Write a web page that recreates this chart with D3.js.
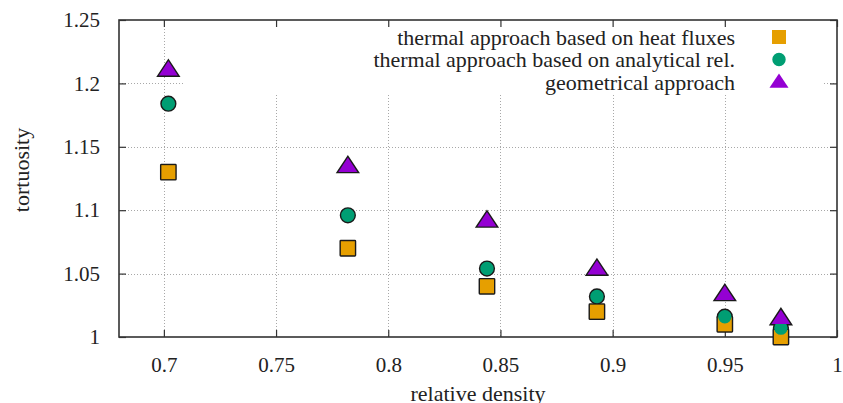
<!DOCTYPE html>
<html>
<head>
<meta charset="utf-8">
<script src="https://cdn.jsdelivr.net/npm/d3@7"></script>
<style>
  html, body { margin: 0; padding: 0; background: #fff; }
  svg { display: block; }
  text { font-family: "Liberation Serif", "Times New Roman", serif; fill: #222; }
</style>
</head>
<body>
<svg id="chart" width="843" height="403"></svg>
<script>
// Relative density of each sample
const density = [0.702, 0.782, 0.844, 0.893, 0.950, 0.975];
// Tortuosity from the three approaches
const heatFluxes = [1.13, 1.07, 1.04, 1.02, 1.01, 1.00];
const analyticalRel = [1.184, 1.096, 1.054, 1.032, 1.016, 1.007];
const geometrical = [1.21, 1.134, 1.091, 1.053, 1.033, 1.014];

const seriesNames = [
  "thermal approach based on heat fluxes",
  "thermal approach based on analytical rel.",
  "geometrical approach"
];
const seriesColors = ["#e69f00", "#009e73", "#9400d3"];
const seriesShapes = ["square", "circle", "triangle"];

const xTicks = [0.7, 0.75, 0.8, 0.85, 0.9, 0.95, 1];
const xTickLabels = ["0.7", "0.75", "0.8", "0.85", "0.9", "0.95", "1"];
const yTicks = [1, 1.05, 1.1, 1.15, 1.2, 1.25];
const yTickLabels = ["1", "1.05", "1.1", "1.15", "1.2", "1.25"];

const series = [heatFluxes, analyticalRel, geometrical].map((vals, i) => ({
  name: seriesNames[i],
  color: seriesColors[i],
  shape: seriesShapes[i],
  points: vals.map((v, j) => ({ x: density[j], y: v }))
}));

const svg = d3.select("#chart");
const plot = { left: 119, right: 837, top: 20, bottom: 337 };

const x = d3.scaleLinear().domain([0.68, 1]).range([plot.left, plot.right]);
const y = d3.scaleLinear().domain([1, 1.25]).range([plot.bottom, plot.top]);

// Marker outline generator: square, circle or triangle (centroid centred)
function shapePath(shape, s) {
  const p = d3.path();
  if (shape === "square") {
    const h = s / 2;
    p.rect(-h, -h, s, s);
  } else if (shape === "circle") {
    p.arc(0, 0, s * 0.48, 0, 2 * Math.PI);
  } else {
    const w = s * 1.36, ht = s * 1.03;
    p.moveTo(0, -ht * 2 / 3);
    p.lineTo(w / 2, ht / 3);
    p.lineTo(-w / 2, ht / 3);
    p.closePath();
  }
  return p.toString();
}
const markerSize = 14;

// Dotted grid
const grid = svg.append("g").attr("stroke", "#a8a8a8").attr("stroke-width", 1)
  .attr("stroke-dasharray", "1,2");
grid.selectAll("line.gx").data(xTicks.filter(t => t > 0.68 && t < 1)).join("line")
  .attr("class", "gx")
  .attr("x1", d => Math.round(x(d)) + 0.5).attr("x2", d => Math.round(x(d)) + 0.5)
  .attr("y1", plot.top).attr("y2", plot.bottom);
grid.selectAll("line.gy").data(yTicks.filter(t => t > 1 && t < 1.25)).join("line")
  .attr("class", "gy")
  .attr("x1", plot.left).attr("x2", plot.right)
  .attr("y1", d => Math.round(y(d)) + 0.5).attr("y2", d => Math.round(y(d)) + 0.5);

// Opaque key box
svg.append("rect")
  .attr("x", 185).attr("y", plot.top + 1)
  .attr("width", 822 - 185).attr("height", 93 - plot.top - 1)
  .attr("fill", "#fff");

// Axes with inward ticks on all four sides
const tickLen = 7;
const fmtX = d => xTickLabels[xTicks.indexOf(d)];
const fmtY = d => yTickLabels[yTicks.indexOf(d)];

const axBottom = svg.append("g").attr("transform", `translate(0,${plot.bottom})`)
  .call(d3.axisBottom(x).tickValues(xTicks).tickFormat(fmtX).tickSizeInner(-tickLen).tickSizeOuter(0).tickPadding(20));
const axLeft = svg.append("g").attr("transform", `translate(${plot.left},0)`)
  .call(d3.axisLeft(y).tickValues(yTicks).tickFormat(fmtY).tickSizeInner(-tickLen).tickSizeOuter(0).tickPadding(19));
const axTop = svg.append("g").attr("transform", `translate(0,${plot.top})`)
  .call(d3.axisTop(x).tickValues(xTicks).tickFormat("").tickSizeInner(-tickLen).tickSizeOuter(0));
const axRight = svg.append("g").attr("transform", `translate(${plot.right},0)`)
  .call(d3.axisRight(y).tickValues(yTicks).tickFormat("").tickSizeInner(-tickLen).tickSizeOuter(0));

[axBottom, axLeft, axTop, axRight].forEach(g => {
  g.select(".domain").remove();
  g.selectAll(".tick line").attr("stroke", "#333").attr("stroke-width", 1.2);
});
axBottom.selectAll(".tick text").attr("font-size", 21).attr("fill", "#222")
  .attr("font-family", "Liberation Serif, serif");
axLeft.selectAll(".tick text").attr("font-size", 21).attr("fill", "#222")
  .attr("font-family", "Liberation Serif, serif");

// Frame
svg.append("rect")
  .attr("x", plot.left).attr("y", plot.top)
  .attr("width", plot.right - plot.left).attr("height", plot.bottom - plot.top)
  .attr("fill", "none").attr("stroke", "#333").attr("stroke-width", 1.6);

// Data markers: black outlines first, then coloured fills on top
const marks = svg.append("g");
series.forEach(s => {
  marks.append("g").selectAll("path").data(s.points).join("path")
    .attr("transform", d => `translate(${x(d.x)},${y(d.y)})`)
    .attr("d", shapePath(s.shape, markerSize))
    .attr("fill", "#1a1a1a").attr("stroke", "#1a1a1a").attr("stroke-width", 2.8)
    .attr("stroke-linejoin", s.shape === "triangle" ? "miter" : "round");
});
series.forEach(s => {
  marks.append("g").selectAll("path").data(s.points).join("path")
    .attr("transform", d => `translate(${x(d.x)},${y(d.y)})`)
    .attr("d", shapePath(s.shape, markerSize))
    .attr("fill", s.color);
});

// Key
const key = svg.append("g");
series.forEach((s, i) => {
  const cy = 37 + i * 22.5;
  key.append("text")
    .attr("x", 735).attr("y", cy + 7.5)
    .attr("text-anchor", "end").attr("font-size", 22)
    .text(s.name);
  key.append("path")
    .attr("transform", `translate(779,${cy + (s.shape === "triangle" ? 1 : 0)})`)
    .attr("d", shapePath(s.shape, markerSize))
    .attr("fill", s.color);
});

// Axis titles
svg.append("text")
  .attr("x", (plot.left + plot.right) / 2).attr("y", 401)
  .attr("text-anchor", "middle").attr("font-size", 22)
  .text("relative density");
svg.append("text")
  .attr("transform", "translate(29,170) rotate(-90)")
  .attr("text-anchor", "middle").attr("font-size", 22)
  .text("tortuosity");
</script>
</body>
</html>
